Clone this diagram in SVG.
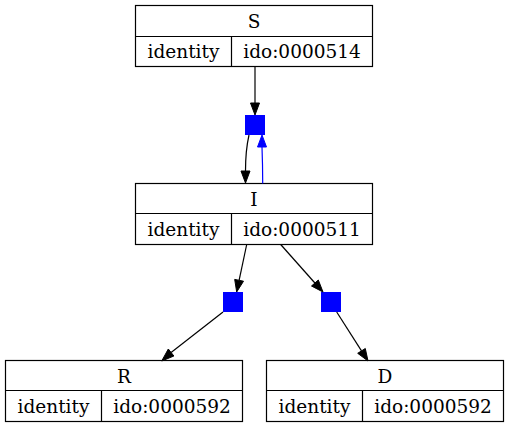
<svg xmlns="http://www.w3.org/2000/svg" width="509" height="428" viewBox="0 0 509 428">
<style>
.box{fill:none;stroke:#000;stroke-width:1.2}
.t{font-family:"DejaVu Serif",serif;font-size:18.5px;text-anchor:middle;fill:#000}
.sq{fill:#0000ff;stroke:#0000ff;stroke-width:1}
.e{fill:none;stroke:#000;stroke-width:1.2}
.eb{fill:none;stroke:#0000ff;stroke-width:1.2}
.ah{fill:#000;stroke:#000;stroke-width:1}
.ahb{fill:#0000ff;stroke:#0000ff;stroke-width:1}
</style>
<rect width="509" height="428" fill="#fff"/>
<g id="S">
<rect class="box" x="135.5" y="5.5" width="237" height="61"/>
<path class="box" d="M135.5,36.5H372.5M231.5,36.5V66.5"/>
<text class="t" x="254" y="27.5">S</text>
<text class="t" x="183.5" y="58">identity</text>
<text class="t" x="302" y="58">ido:0000514</text>
</g>
<g id="I">
<rect class="box" x="135.5" y="183.5" width="237" height="61"/>
<path class="box" d="M135.5,213.5H372.5M231.5,213.5V244.5"/>
<text class="t" x="254" y="205.5">I</text>
<text class="t" x="183.5" y="236">identity</text>
<text class="t" x="302" y="236">ido:0000511</text>
</g>
<g id="R">
<rect class="box" x="5.5" y="360.5" width="237" height="61"/>
<path class="box" d="M5.5,390.5H242.5M101.5,390.5V421.5"/>
<text class="t" x="124" y="382.5">R</text>
<text class="t" x="53.5" y="413">identity</text>
<text class="t" x="172" y="413">ido:0000592</text>
</g>
<g id="D">
<rect class="box" x="266.5" y="360.5" width="237" height="61"/>
<path class="box" d="M266.5,390.5H503.5M362.5,390.5V421.5"/>
<text class="t" x="385" y="382.5">D</text>
<text class="t" x="314.5" y="413">identity</text>
<text class="t" x="433" y="413">ido:0000592</text>
</g>
<g id="p1"><rect class="sq" x="245.5" y="115.5" width="19" height="19"/></g>
<g id="p2"><rect class="sq" x="223.5" y="292.5" width="19" height="19"/></g>
<g id="p3"><rect class="sq" x="321.5" y="292.5" width="19" height="19"/></g>
<g id="edges">
<path class="e" d="M255,66.5V103"/>
<polygon class="ah" points="250.5,103 255,115 259.5,103"/>
<path class="e" d="M249,135C246.5,146 245.5,156 245.5,171"/>
<polygon class="ah" points="241,171 245.5,183 250,171"/>
<path class="eb" d="M262.7,183.5C262.7,170 262.5,160 262,147"/>
<polygon class="ahb" points="257.5,147 262,135 266.5,147"/>
<path class="e" d="M246.7,244.5L239.1,280.3"/>
<polygon class="ah" points="243.5,281.2 236.7,292 234.7,279.4"/>
<path class="e" d="M280.7,244.5L314.9,283"/>
<polygon class="ah" points="311.5,286 323,292 318.3,280"/>
<path class="e" d="M223,312L171.1,352.5"/>
<polygon class="ah" points="173.9,356 161.7,361 168.3,349"/>
<path class="e" d="M336.7,312L361.5,350.9"/>
<polygon class="ah" points="357.7,353.3 368,361 365.3,348.5"/>
</g>
</svg>
